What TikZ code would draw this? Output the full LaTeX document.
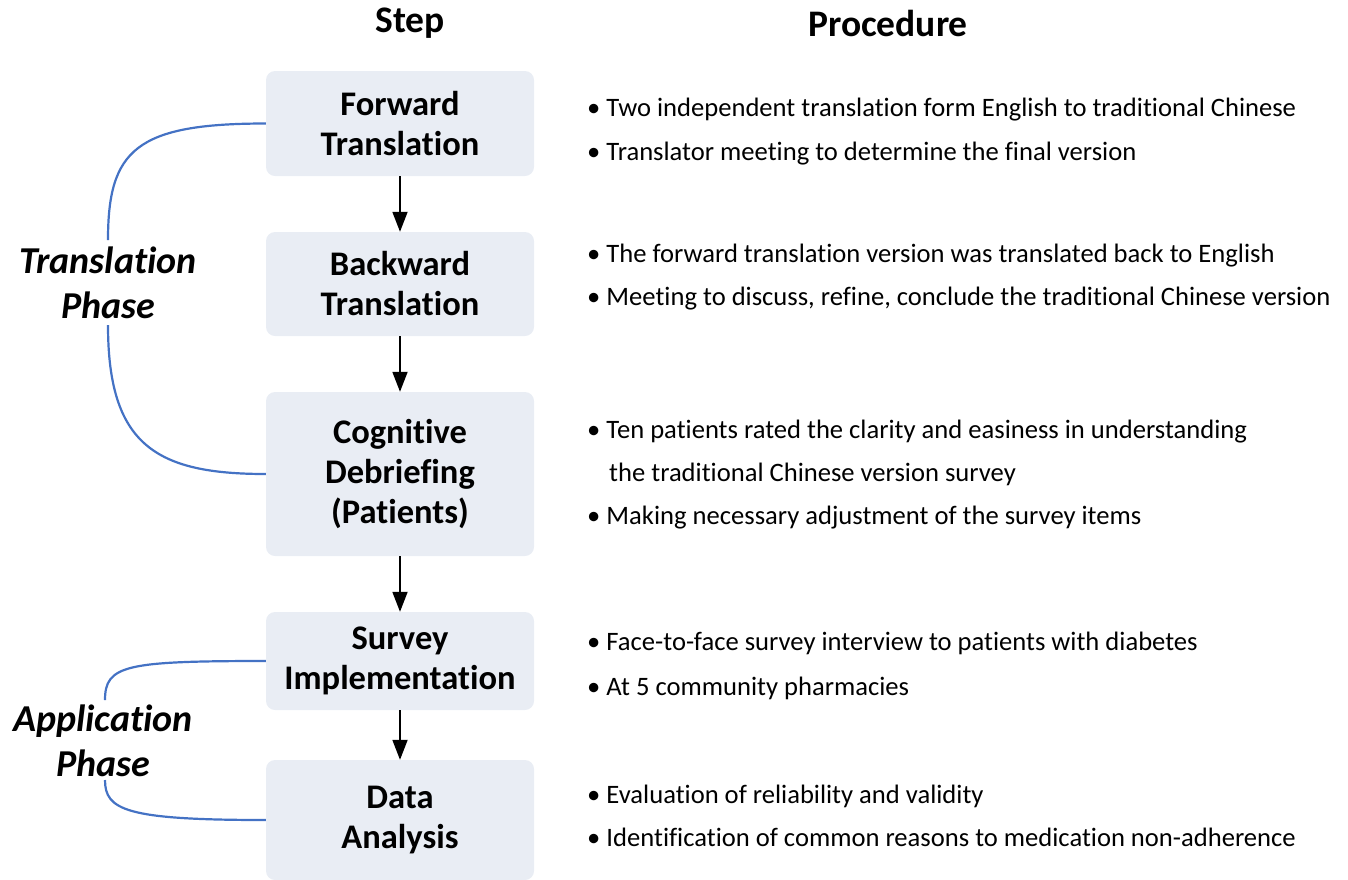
\documentclass[tikz,border=0pt]{standalone}
\usepackage{fontspec}
\setmainfont{Carlito}[Ligatures=NoCommon]
\usetikzlibrary{arrows.meta}
\definecolor{boxgray}{RGB}{233,237,244}
\definecolor{phaseblue}{RGB}{68,114,196}

\begin{document}
\begin{tikzpicture}[x=1pt,y=-1pt,
  etape/.style={fill=boxgray,rounded corners=9pt,minimum width=268pt,align=center,
    font=\fontsize{34.5}{40}\selectfont\bfseries},
  fleche/.style={-{Triangle[length=20pt,width=15pt]},line width=1.8pt},
  phase/.style={align=center,font=\fontsize{38}{45}\selectfont\bfseries\itshape},
  tete/.style={anchor=base,font=\fontsize{37.5}{40}\selectfont\bfseries},
  puce/.style={anchor=base west,inner sep=0pt,font=\fontsize{26.6}{30}\selectfont},
  accolade/.style={draw=phaseblue,line width=2.2pt}]
%schema traduction / application
\useasboundingbox (0,0) rectangle (1348,879);

\newcommand{\xEtape}{400}
\newcommand{\xPuce}{587}

\node[tete] (step) at (410,32) {Step};
\node[tete] (proc) at (888,36) {Procedure};

% etapes
\node[etape,minimum height=105pt] (fwd) at (\xEtape,123.5) {Forward\\Translation};
\node[etape,minimum height=104pt] (bwd) at (\xEtape,284) {Backward\\Translation};
\node[etape,minimum height=164pt] (cog) at (\xEtape,474) {Cognitive\\Debriefing\\(Patients)};
\node[etape,minimum height=98pt] (surv) at (\xEtape,661) {Survey\\Implementation};
\node[etape,minimum height=120pt] (data) at (\xEtape,820) {Data\\Analysis};

\draw[fleche] (fwd) -- (bwd);
\draw[fleche] (bwd) -- (cog);
\draw[fleche] (cog) -- (surv);
\draw[fleche] (surv) -- (data);

% phases
\node[phase] (trPhase) at (108,282.5) {Translation\\Phase};
\node[phase] (apPhase) at (103,740.5) {Application\\Phase};
\coordinate (trHaut) at (108,240);
\coordinate (trBas) at (108,325);
\coordinate (apHaut) at (105,700);
\coordinate (apBas) at (105,780);

\draw[accolade] (fwd.west) .. controls +(-130,0) and +(0,-90) .. (trHaut);
\draw[accolade] (trBas) .. controls +(0,120) and +(-110,0) .. (cog.west);
\draw[accolade] (surv.west) .. controls +(-140,0) and +(0,-35) .. (apHaut);
\draw[accolade] (apBas) .. controls +(0,30) and +(-140,0) .. (data.west);

% procedures
\node[puce] (p1a) at (\xPuce,116) {• Two independent translation form English to traditional Chinese};
\node[puce] (p1b) at (\xPuce,160) {• Translator meeting to determine the final version};
\node[puce] (p2a) at (\xPuce,262) {• The forward translation version was translated back to English};
\node[puce] (p2b) at (\xPuce,305) {• Meeting to discuss, refine, conclude the traditional Chinese version};
\node[puce] (p3a) at (\xPuce,438) {• Ten patients rated the clarity and easiness in understanding};
\node[puce] (p3b) at (\xPuce,481) {\hspace{22pt}the traditional Chinese version survey};
\node[puce] (p3c) at (\xPuce,524) {• Making necessary adjustment of the survey items};
\node[puce] (p4a) at (\xPuce,650) {• Face-to-face survey interview to patients with diabetes};
\node[puce] (p4b) at (\xPuce,695) {• At 5 community pharmacies};
\node[puce] (p5a) at (\xPuce,803) {• Evaluation of reliability and validity};
\node[puce] (p5b) at (\xPuce,846) {• Identification of common reasons to medication non-adherence};
\end{tikzpicture}
\end{document}
